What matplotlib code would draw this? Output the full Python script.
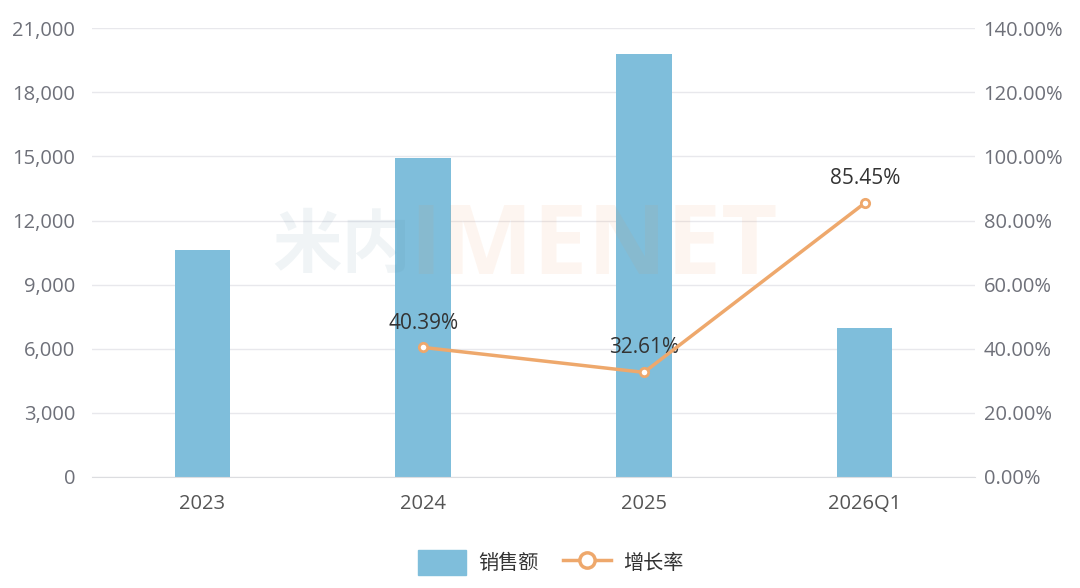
import matplotlib.pyplot as plt
from matplotlib.lines import Line2D
from matplotlib.patches import FancyBboxPatch

plt.rcParams['font.family'] = ['Open Sans', 'Noto Sans CJK SC', 'DejaVu Sans']

categories = ['2023', '2024', '2025', '2026Q1']
sales = [10630, 14923, 19790, 6970]
growth_x = [1, 2, 3]
growth = [40.39, 32.61, 85.45]

bar_color = '#7fbedb'
line_color = '#eea86c'
tick_color = '#6e7079'
grid_color = '#e8e8ec'

fig = plt.figure(figsize=(10.8, 5.88), dpi=100)
ax = fig.add_axes([0.085, 0.189, 0.818, 0.763])
ax2 = ax.twinx()

# faint watermark
fig.text(0.381, 0.577, '米内', fontsize=50, fontweight='bold', color='#5a8aa0',
         alpha=0.09, ha='right', va='center', zorder=10)
fig.text(0.379, 0.577, 'IMENET', fontsize=70, fontweight='bold', color='#f08c46',
         alpha=0.08, ha='left', va='center', zorder=10)

x = range(len(categories))
ax.bar(x, sales, width=0.25, color=bar_color, zorder=2)
ax.set_xlim(-0.5, 3.5)
ax.set_ylim(0, 21000)
ax.set_yticks(range(0, 21001, 3000))
ax.set_yticklabels([f'{v:,}' for v in range(0, 21001, 3000)])
ax.set_xticks(list(x))
ax.set_xticklabels(categories)
ax.grid(axis='y', color=grid_color, linewidth=1, zorder=0)
ax.set_axisbelow(True)

ax2.set_ylim(0, 140)
ax2.set_yticks(range(0, 141, 20))
ax2.set_yticklabels([f'{v:.2f}%' for v in range(0, 141, 20)])
ax2.plot(growth_x, growth, color=line_color, linewidth=2.5, marker='o',
         markersize=6, markerfacecolor='white', markeredgecolor=line_color,
         markeredgewidth=2, zorder=5)
for xi, g in zip(growth_x, growth):
    ax2.annotate(f'{g:.2f}%', (xi, g), xytext=(0, 10), textcoords='offset points',
                 ha='center', va='bottom', fontsize=15, color='#333333')

for a in (ax, ax2):
    for s in a.spines.values():
        s.set_visible(False)
    a.tick_params(length=0, labelsize=14.5, colors=tick_color)
ax.spines['bottom'].set_visible(True)
ax.spines['bottom'].set_color('#dcdde0')
ax.tick_params(axis='x', pad=12, colors='#555555')
ax.tick_params(axis='y', pad=12)
ax2.tick_params(axis='y', pad=6)

# legend
handles = [
    FancyBboxPatch((0, 0), 1, 1, boxstyle='round,pad=0.1', color=bar_color),
    Line2D([0], [0], color=line_color, linewidth=2.5, marker='o', markersize=11,
           markerfacecolor='white', markeredgecolor=line_color, markeredgewidth=2.5),
]
fig.legend(handles, ['销售额', '增长率'], loc='center', bbox_to_anchor=(0.51, 0.043),
           ncol=2, frameon=False, fontsize=14.5, handlelength=2.4, handleheight=1.5,
           handletextpad=0.6, columnspacing=1.2, labelcolor='#333333')

fig.savefig('out.png', dpi=100)
